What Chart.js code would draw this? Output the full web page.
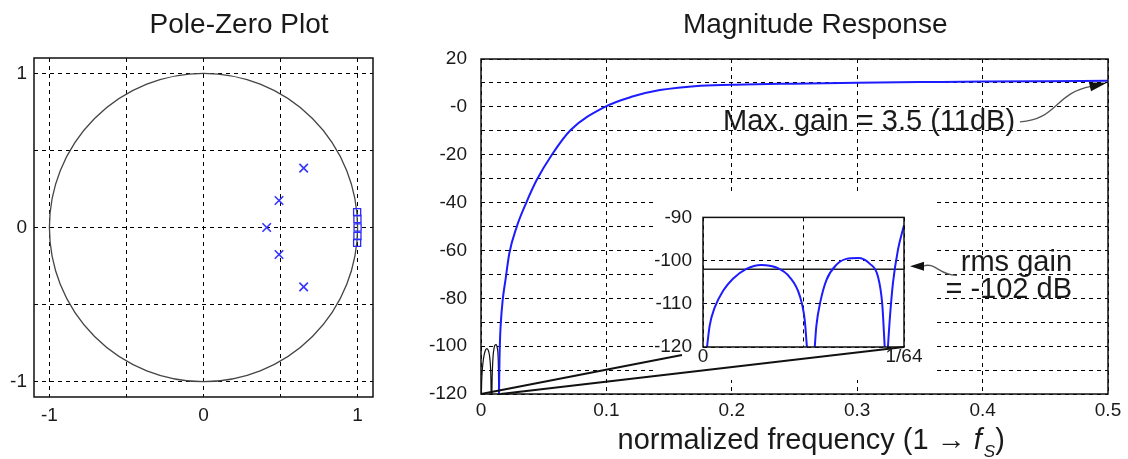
<!DOCTYPE html>
<html>
<head>
<meta charset="utf-8">
<script src="https://cdn.jsdelivr.net/npm/chart.js@4.4.1/dist/chart.umd.min.js"></script>
<style>
  body { margin: 0; background: #fff; }
  #wrap { position: relative; width: 1128px; height: 459px; overflow: hidden; background: #fff; }
  #wrap canvas { position: absolute; }
</style>
</head>
<body>
<div id="wrap">
  <canvas id="pz" width="400" height="459" style="left:0px;top:0px"></canvas>
  <canvas id="mag" width="718" height="459" style="left:410px;top:0px"></canvas>
  <canvas id="inset" width="278" height="185" style="left:655px;top:195px"></canvas>
</div>
<script>
// ---- pole-zero data ----
const poleRe = [0.65, 0.49, 0.41, 0.49, 0.65];
const poleIm = [0.385, 0.175, 0, -0.175, -0.385];
const zeroRe = [0.997, 0.999, 1.0, 0.999, 0.997];
const zeroIm = [0.1, 0.055, 0, -0.055, -0.1];
const pzTicks = [-1, -0.5, 0, 0.5, 1];
const pzTickLabels = ['-1', '', '0', '', '1'];

// ---- stopband lobes (frequency in units of fs/64) ----
const lobe1Pos = [0.02, 0.033, 0.058, 0.10, 0.149, 0.216, 0.29, 0.365, 0.431, 0.481, 0.506, 0.517];
const lobe1Db  = [-120, -115.1, -110.9, -107.0, -104.2, -101.9, -101.0, -101.6, -103.8, -108.1, -113.7, -120];
const lobe2Pos = [0.556, 0.564, 0.584, 0.614, 0.663, 0.713, 0.771, 0.829, 0.871, 0.892, 0.904];
const lobe2Db  = [-120, -115.1, -109.5, -104.5, -101.0, -99.6, -99.4, -100.7, -103.8, -110.2, -120];
const lobe3Pos = [0.92, 0.929, 0.945, 0.97, 1.0];
const lobe3Db  = [-120, -113.7, -105.2, -97.5, -91.8];

// ---- passband (normalized frequency, dB) ----
const passFreq = [0.0173, 0.0195, 0.0226, 0.0285, 0.0359, 0.0444, 0.0564, 0.0715, 0.0989, 0.12,
                  0.1427, 0.175, 0.21, 0.25, 0.3, 0.35, 0.4, 0.45, 0.5];
const passDb   = [-80.7, -72.4, -61.2, -50.1, -40.3, -30.6, -20.1, -9.7, 0, 4.2,
                  7.0, 8.85, 9.35, 9.7, 10.1, 10.35, 10.6, 10.75, 10.88];

const maxGainDb = 10.88;
const rmsGainDb = -102;

const magXTicks = [0, 0.1, 0.2, 0.3, 0.4, 0.5];
const magXLabels = ['0', '0.1', '0.2', '0.3', '0.4', '0.5'];
const magYTicks = [-120, -110, -100, -90, -80, -70, -60, -50, -40, -30, -20, -10, 0, 10, 20];
const magYLabels = ['-120', '', '-100', '', '-80', '', '-60', '', '-40', '', '-20', '', '-0', '', '20'];

const insetXTicks = [0, 0.5, 1];
const insetXLabels = ['0', '', '1/64'];
const insetYTicks = [-120, -110, -100, -90];
const insetYLabels = ['-120', '-110', '-100', '-90'];

// ---- styling ----
const FONT = '"Liberation Sans", Arial, Helvetica, sans-serif';
const INK = '#1a1a1a';
const BLUE = '#1c1cff';

const pts = (xs, ys, k = 1) => xs.map((v, i) => ({ x: v * k, y: ys[i] }));
const gap = { x: null, y: null };

function axis(min, max, tickValues, tickLabels, pad, fit) {
  return {
    type: 'linear', min, max,
    afterBuildTicks: s => { s.ticks = tickValues.map(v => ({ value: v })); },
    afterFit: fit,
    grid: { color: '#000', lineWidth: 1, drawTicks: false },
    border: { display: false, dash: [4, 4] },
    ticks: {
      autoSkip: false, maxRotation: 0, padding: pad, color: INK,
      font: { family: FONT, size: 19 },
      callback: (v, i) => tickLabels[i]
    }
  };
}

// frame + panel title
const frame = {
  id: 'frame',
  afterDraw(chart, args, opts) {
    const { ctx, chartArea: a } = chart;
    ctx.save();
    ctx.strokeStyle = '#111';
    ctx.lineWidth = opts.width || 1.5;
    ctx.strokeRect(a.left, a.top, a.width, a.height);
    if (opts.title) {
      ctx.fillStyle = INK;
      ctx.font = `28px ${FONT}`;
      ctx.textAlign = 'center';
      ctx.textBaseline = 'alphabetic';
      ctx.fillText(opts.title, a.left + a.width * opts.titleAt, 33);
    }
    ctx.restore();
  }
};

const unitCircle = {
  id: 'unitCircle',
  beforeDatasetsDraw(chart) {
    const { ctx, scales: { x, y } } = chart;
    const cx = x.getPixelForValue(0), cy = y.getPixelForValue(0);
    ctx.save();
    ctx.strokeStyle = '#444';
    ctx.lineWidth = 1.3;
    ctx.beginPath();
    ctx.ellipse(cx, cy, x.getPixelForValue(1) - cx, cy - y.getPixelForValue(1), 0, 0, Math.PI * 2);
    ctx.stroke();
    ctx.restore();
  }
};

function arrowHead(ctx, tip, base, half) {
  const dx = tip.x - base.x, dy = tip.y - base.y, len = Math.hypot(dx, dy);
  const nx = -dy / len * half, ny = dx / len * half;
  ctx.beginPath();
  ctx.moveTo(tip.x, tip.y);
  ctx.lineTo(base.x + nx, base.y + ny);
  ctx.lineTo(base.x - nx, base.y - ny);
  ctx.closePath();
  ctx.fill();
}

// ---- inset (stopband zoom) ----
const insetCanvas = document.getElementById('inset');
const insetChart = new Chart(insetCanvas, {
  type: 'line',
  data: {
    datasets: [
      {
        data: [...pts(lobe1Pos, lobe1Db), gap, ...pts(lobe2Pos, lobe2Db), gap, ...pts(lobe3Pos, lobe3Db)],
        borderColor: BLUE, borderWidth: 2, pointRadius: 0, cubicInterpolationMode: 'monotone', spanGaps: false
      },
      {
        data: [{ x: 0, y: rmsGainDb }, { x: 1, y: rmsGainDb }],
        borderColor: '#222', borderWidth: 1.3, pointRadius: 0
      }
    ]
  },
  options: {
    responsive: false, animation: false, events: [],
    layout: { padding: { top: 9, right: 29, left: 0, bottom: 0 } },
    plugins: { legend: { display: false }, tooltip: { enabled: false }, frame: { width: 1.5 } },
    scales: {
      x: Object.assign(axis(0, 1, insetXTicks, insetXLabels, 0, s => { s.height = 33; }),
        {}),
      y: axis(-120, -90, insetYTicks, insetYLabels, 11, s => { s.width = 48; })
    }
  },
  plugins: [frame]
});
insetChart.options.scales.x.ticks.font.lineHeight = 1;
insetChart.update();

// ---- magnitude response ----
const magCanvas = document.getElementById('mag');

const magOverlay = {
  id: 'magOverlay',
  beforeDatasetsDraw(chart) {
    const ctx = chart.ctx;
    const ox = insetCanvas.offsetLeft - magCanvas.offsetLeft;
    const oy = insetCanvas.offsetTop - magCanvas.offsetTop;
    ctx.save();
    ctx.fillStyle = '#fff';
    ctx.fillRect(ox, oy, insetCanvas.width, insetCanvas.height);
    ctx.restore();
  },
  afterDatasetsDraw(chart) {
    const { ctx, scales: { x, y } } = chart;
    const ox = insetCanvas.offsetLeft - magCanvas.offsetLeft;
    const oy = insetCanvas.offsetTop - magCanvas.offsetTop;
    const ia = insetChart.chartArea;
    ctx.save();
    ctx.strokeStyle = '#111';
    ctx.lineWidth = 1.8;
    ctx.beginPath();
    ctx.moveTo(x.getPixelForValue(0), y.getPixelForValue(-120));
    ctx.lineTo(ia.left + ox - 21, ia.bottom + oy + 8);
    ctx.moveTo(x.getPixelForValue(1 / 64), y.getPixelForValue(-120));
    ctx.lineTo(ia.right + ox, ia.bottom + oy);
    ctx.stroke();
    ctx.restore();
  },
  afterDraw(chart) {
    const { ctx, scales: { x, y }, chartArea: a } = chart;
    const ox = insetCanvas.offsetLeft - magCanvas.offsetLeft;
    const oy = insetCanvas.offsetTop - magCanvas.offsetTop;
    ctx.save();
    ctx.fillStyle = INK;
    ctx.textBaseline = 'alphabetic';

    // max gain note
    const t1 = { x: x.getPixelForValue(0.5) - 1, y: y.getPixelForValue(maxGainDb) + 2 };
    ctx.strokeStyle = '#555';
    ctx.lineWidth = 1.3;
    ctx.beginPath();
    ctx.moveTo(t1.x - 87, t1.y + 39);
    ctx.bezierCurveTo(t1.x - 50, t1.y + 37, t1.x - 52, t1.y + 10, t1.x - 16, t1.y + 3.5);
    ctx.stroke();
    ctx.fillStyle = '#111';
    arrowHead(ctx, t1, { x: t1.x - 17, y: t1.y + 4 }, 4.5);
    ctx.fillStyle = INK;
    ctx.font = `29px ${FONT}`;
    ctx.textAlign = 'left';
    ctx.fillText('Max. gain = 3.5 (11dB)', x.getPixelForValue(0.193), y.getPixelForValue(-9.7));

    // rms gain note
    const t2 = { x: insetChart.chartArea.right + ox + 6,
                 y: insetChart.scales.y.getPixelForValue(rmsGainDb) + oy - 3 };
    ctx.strokeStyle = '#555';
    ctx.beginPath();
    ctx.moveTo(t2.x + 13, t2.y);
    ctx.bezierCurveTo(t2.x + 25, t2.y - 5, t2.x + 30, t2.y + 10, t2.x + 47, t2.y + 9);
    ctx.stroke();
    ctx.fillStyle = '#111';
    arrowHead(ctx, t2, { x: t2.x + 14, y: t2.y }, 4.5);
    ctx.fillStyle = INK;
    ctx.textAlign = 'right';
    ctx.fillText('rms gain', x.getPixelForValue(0.4713), y.getPixelForValue(-68.6));
    ctx.fillText('= -102 dB', x.getPixelForValue(0.4713), y.getPixelForValue(-79.9));

    // axis title with italic f and subscript S
    const parts = [
      { t: 'normalized frequency (1 \u2192 ', f: `29px ${FONT}`, dy: 0 },
      { t: 'f', f: `italic 29px ${FONT}`, dy: 0 },
      { t: 'S', f: `italic 17px ${FONT}`, dy: 8 },
      { t: ')', f: `29px ${FONT}`, dy: 0 }
    ];
    let total = 0;
    parts.forEach(p => { ctx.font = p.f; p.w = ctx.measureText(p.t).width; total += p.w; });
    let px = a.left + a.width * 0.525 - total / 2;
    ctx.textAlign = 'left';
    parts.forEach(p => { ctx.font = p.f; ctx.fillText(p.t, px, 449 + p.dy); px += p.w + (p.t === 'f' ? 2 : 0); });
    ctx.restore();
  }
};

const magChart = new Chart(magCanvas, {
  type: 'line',
  data: {
    datasets: [
      {
        data: [...pts(lobe3Pos, lobe3Db, 1 / 64), ...pts(passFreq, passDb)],
        borderColor: BLUE, borderWidth: 2, pointRadius: 0, cubicInterpolationMode: 'monotone'
      },
      {
        data: [...pts(lobe1Pos, lobe1Db, 1 / 64), gap, ...pts(lobe2Pos, lobe2Db, 1 / 64)],
        borderColor: '#111', borderWidth: 1.2, pointRadius: 0, cubicInterpolationMode: 'monotone', spanGaps: false
      }
    ]
  },
  options: {
    responsive: false, animation: false, events: [],
    layout: { padding: { top: 59, right: 20, left: 0, bottom: 0 } },
    plugins: {
      legend: { display: false }, tooltip: { enabled: false },
      frame: { width: 1.5, title: 'Magnitude Response', titleAt: 0.533 }
    },
    scales: {
      x: axis(0, 0.5, magXTicks, magXLabels, 5, s => { s.height = 65; }),
      y: axis(-120, 20, magYTicks, magYLabels, 14, s => { s.width = 71; })
    }
  },
  plugins: [magOverlay, frame]
});

// ---- pole-zero plot ----
new Chart(document.getElementById('pz'), {
  type: 'scatter',
  data: {
    datasets: [
      {
        data: pts(poleRe, poleIm),
        pointStyle: 'crossRot', pointRadius: 6, pointBorderWidth: 1.6,
        pointBorderColor: '#3535ff', showLine: false
      },
      {
        data: pts(zeroRe, zeroIm),
        pointStyle: 'rect', pointRadius: 5, pointBorderWidth: 1.3,
        pointBorderColor: '#2a2aff', pointBackgroundColor: 'rgba(0,0,0,0)', showLine: false
      }
    ]
  },
  options: {
    responsive: false, animation: false, events: [],
    layout: { padding: { top: 58, right: 27, left: 0, bottom: 0 } },
    plugins: {
      legend: { display: false }, tooltip: { enabled: false },
      frame: { width: 1.5, title: 'Pole-Zero Plot', titleAt: 0.605 }
    },
    scales: {
      x: axis(-1.1, 1.1, pzTicks, pzTickLabels, 7, s => { s.height = 62; }),
      y: axis(-1.1, 1.1, pzTicks, pzTickLabels, 7, s => { s.width = 34; })
    }
  },
  plugins: [unitCircle, frame]
});
</script>
</body>
</html>
